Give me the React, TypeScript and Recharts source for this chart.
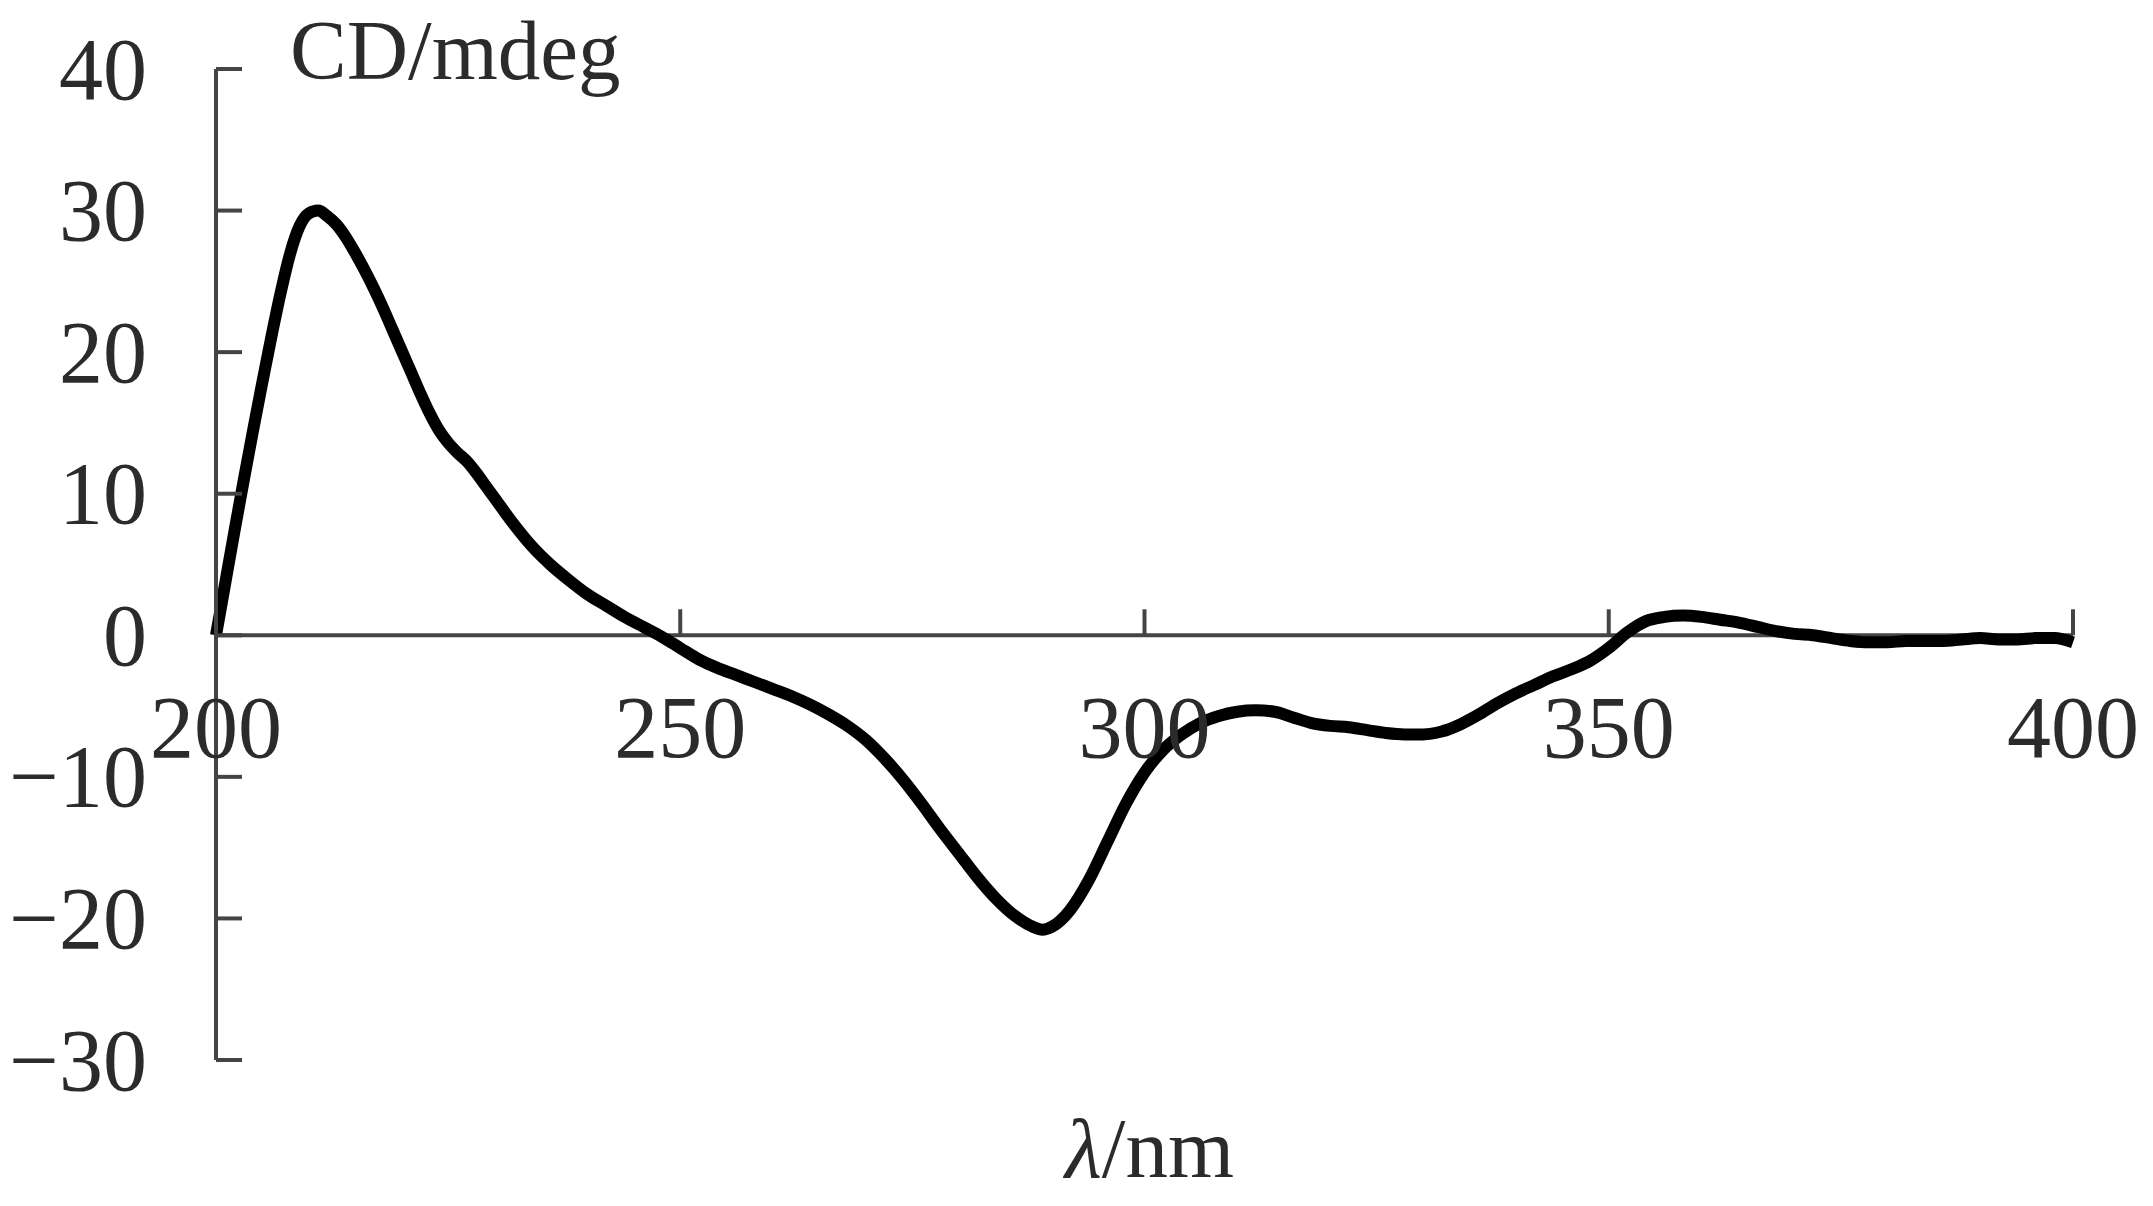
import { LineChart, Line, XAxis, YAxis, ReferenceLine } from "recharts";

// CD spectrum
const WAVELENGTHS = [
  200, 201, 202, 203, 204, 205, 206, 207, 208, 209, 210, 211, 212, 213, 214,
  215, 216, 217, 218, 219, 220, 221, 222, 223, 224, 225, 226, 227, 228, 229,
  230, 232, 234, 236, 238, 240, 242, 244, 246, 248, 250, 252, 254, 256, 258,
  260, 262, 264, 266, 268, 270, 272, 274, 276, 278, 280, 282, 284, 286, 288,
  289, 290, 292, 294, 296, 298, 300, 302, 304, 306, 308, 310, 312, 314, 316,
  318, 320, 322, 324, 326, 328, 330, 332, 334, 336, 338, 340, 342, 344, 346,
  348, 350, 352, 354, 356, 358, 360, 362, 364, 366, 368, 370, 372, 374, 376,
  378, 380, 382, 384, 386, 388, 390, 392, 394, 396, 398, 400,
];
const CD_VALUES = [
  0, 3.7, 7.4, 11.0, 14.5, 17.9, 21.2, 24.3, 27.0, 28.9, 29.8, 30.0, 29.6, 29.0, 28.1,
  27.0, 25.8, 24.5, 23.1, 21.6, 20.1, 18.6, 17.1, 15.7, 14.5, 13.6, 12.9, 12.3, 11.5, 10.6,
  9.7, 7.9, 6.3, 5.0, 3.9, 2.9, 2.1, 1.3, 0.6, -0.1, -0.9, -1.7, -2.3, -2.8, -3.3,
  -3.8, -4.3, -4.9, -5.6, -6.4, -7.4, -8.7, -10.2, -11.9, -13.7, -15.4, -17.1, -18.6, -19.8, -20.6,
  -20.8, -20.6, -19.4, -17.3, -14.6, -11.9, -9.7, -8.1, -7.0, -6.2, -5.7, -5.4, -5.3, -5.4, -5.8,
  -6.2, -6.4, -6.5, -6.7, -6.9, -7.0, -7.0, -6.8, -6.3, -5.6, -4.8, -4.1, -3.5, -2.9, -2.4,
  -1.8, -0.9, 0.2, 1.0, 1.3, 1.4, 1.3, 1.1, 0.9, 0.6, 0.3, 0.1, 0.0, -0.2, -0.4,
  -0.5, -0.5, -0.4, -0.4, -0.4, -0.3, -0.2, -0.3, -0.3, -0.2, -0.2, -0.5,
];
const X_TICKS = [200, 250, 300, 350, 400];
const Y_TICKS = [-30, -20, -10, 0, 10, 20, 30, 40];

const data = WAVELENGTHS.map((nm, i) => ({ nm, cd: CD_VALUES[i] }));

const WIDTH = 2153;
const HEIGHT = 1206;
const X_AXIS_H = 30;
const MARGIN = { top: 69, right: 80, bottom: 146 - X_AXIS_H, left: 0 };
const Y_AXIS_W = 216;
const Y_MIN = -30;
const Y_MAX = 40;
const PLOT_H = HEIGHT - 69 - 146;
const ZERO_Y = 69 + (PLOT_H * Y_MAX) / (Y_MAX - Y_MIN);

const AXIS_COLOR = "#444";
const TEXT_COLOR = "#2b2b2b";
const FONT = '"Liberation Serif", "Times New Roman", serif';
const TICK_LEN = 26;

const fmt = (v: number) => (v < 0 ? `\u2212${Math.abs(v)}` : `${v}`);

function YTick({ y, payload }: any) {
  return (
    <g>
      <line
        x1={Y_AXIS_W}
        x2={Y_AXIS_W + TICK_LEN}
        y1={y}
        y2={y}
        stroke={AXIS_COLOR}
        strokeWidth={4}
      />
      <text
        x={Y_AXIS_W - 69}
        y={y}
        textAnchor="end"
        dominantBaseline="central"
        fontFamily={FONT}
        fontSize={88}
        fill={TEXT_COLOR}
      >
        {fmt(payload.value)}
      </text>
    </g>
  );
}

// x axis sits on the zero line, so its ticks are drawn there
function XTick({ x, payload }: any) {
  return (
    <g>
      <line
        x1={x}
        x2={x}
        y1={ZERO_Y}
        y2={ZERO_Y - TICK_LEN}
        stroke={AXIS_COLOR}
        strokeWidth={4}
      />
      <text
        x={x}
        y={ZERO_Y + 122}
        textAnchor="middle"
        fontFamily={FONT}
        fontSize={88}
        fill={TEXT_COLOR}
      >
        {payload.value}
      </text>
    </g>
  );
}

export default function App() {
  return (
    <div
      style={{
        position: "absolute",
        left: 0,
        top: 0,
        width: WIDTH,
        height: HEIGHT,
        background: "#fff",
      }}
    >
      <LineChart width={WIDTH} height={HEIGHT} data={data} margin={MARGIN}>
        <XAxis
          dataKey="nm"
          type="number"
          domain={[200, 400]}
          ticks={X_TICKS}
          height={X_AXIS_H}
          axisLine={false}
          tickLine={false}
          tick={(p: any) => <XTick {...p} />}
          interval={0}
        />
        <YAxis
          type="number"
          domain={[Y_MIN, Y_MAX]}
          ticks={Y_TICKS}
          width={Y_AXIS_W}
          axisLine={{ stroke: AXIS_COLOR, strokeWidth: 4 }}
          tickLine={false}
          tick={(p: any) => <YTick {...p} />}
          interval={0}
        />
        <ReferenceLine y={0} stroke={AXIS_COLOR} strokeWidth={4} />
        <Line
          type="monotone"
          dataKey="cd"
          stroke="#000"
          strokeWidth={12}
          strokeLinejoin="round"
          dot={false}
          isAnimationActive={false}
        />
      </LineChart>
      <svg
        width={WIDTH}
        height={HEIGHT}
        style={{ position: "absolute", left: 0, top: 0, pointerEvents: "none" }}
      >
        <text x={290} y={79} fontFamily={FONT} fontSize={85} fill={TEXT_COLOR}>
          CD/mdeg
        </text>
        <text x={1065} y={1177} fontFamily={FONT} fontSize={85} fill={TEXT_COLOR}>
          <tspan fontStyle="italic">λ</tspan>/nm
        </text>
      </svg>
    </div>
  );
}
